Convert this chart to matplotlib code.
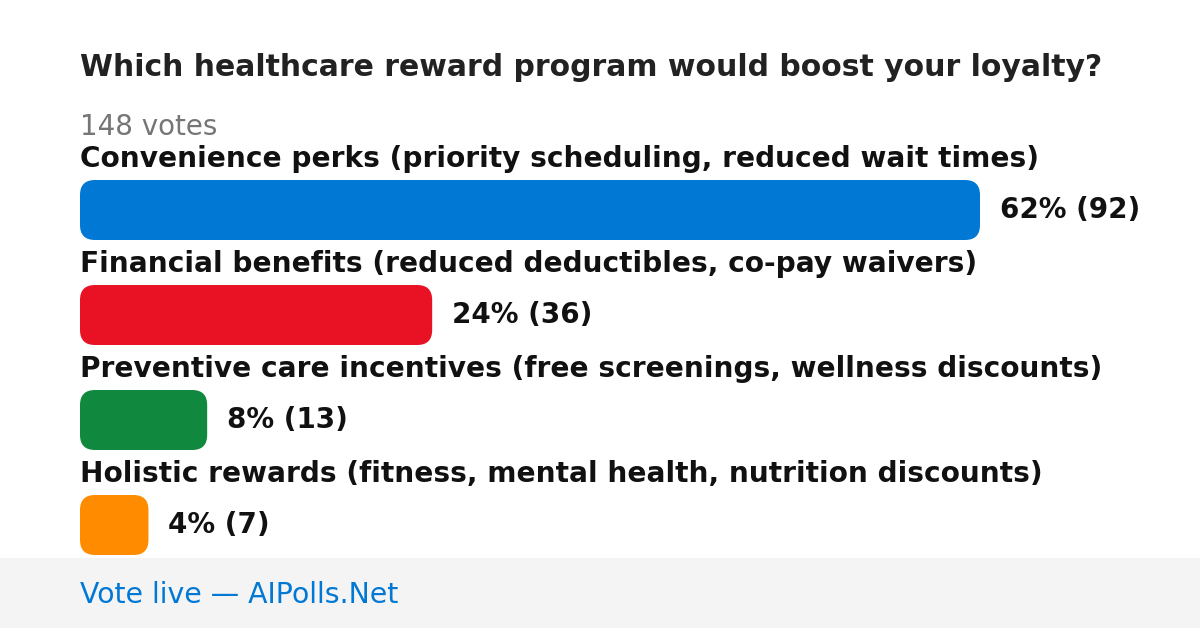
import matplotlib
matplotlib.use("Agg")
import matplotlib.pyplot as plt
from matplotlib.patches import FancyBboxPatch, Rectangle

plt.rcParams["font.family"] = ["DejaVu Sans"]

title = "Which healthcare reward program would boost your loyalty?"
categories = [
    "Convenience perks (priority scheduling, reduced wait times)",
    "Financial benefits (reduced deductibles, co-pay waivers)",
    "Preventive care incentives (free screenings, wellness discounts)",
    "Holistic rewards (fitness, mental health, nutrition discounts)",
]
votes = [92, 36, 13, 7]
colors = ["#0078d4", "#e81224", "#10893e", "#ff8c00"]
footer = "Vote live \u2014 AIPolls.Net"

total = sum(votes)
W, H = 1200, 628
fig = plt.figure(figsize=(W / 100, H / 100), dpi=100)
ax = fig.add_axes([0, 0, 1, 1])
ax.set_xlim(0, W)
ax.set_ylim(H, 0)
ax.axis("off")

left = 80
maxw = 900
ax.text(left, 68, title, fontsize=21.5, fontweight="bold", color="#222222", va="center", ha="left")
ax.text(left, 127, f"{total} votes", fontsize=20, color="#767676", va="center", ha="left")

for i, (cat, v, c) in enumerate(zip(categories, votes, colors)):
    y0 = 180 + i * 105
    ax.text(left, y0 - 21, cat, fontsize=20.2, fontweight="bold", color="#111111", va="center", ha="left")
    w = v / max(votes) * maxw
    r = 15
    p = FancyBboxPatch((left + r, y0 + r), w - 2 * r, 60 - 2 * r,
                       boxstyle=f"round,pad={r}", linewidth=0, facecolor=c)
    ax.add_patch(p)
    pct = int(v / total * 100)
    ax.text(left + w + 20, y0 + 30, f"{pct}% ({v})", fontsize=20, fontweight="bold",
            color="#111111", va="center", ha="left")

ax.add_patch(Rectangle((0, 558), W, H - 558, facecolor="#f4f4f4", linewidth=0))
ax.text(left, 595, footer, fontsize=20.4, color="#0078d4", va="center", ha="left")

fig.savefig("out.png", dpi=100)
